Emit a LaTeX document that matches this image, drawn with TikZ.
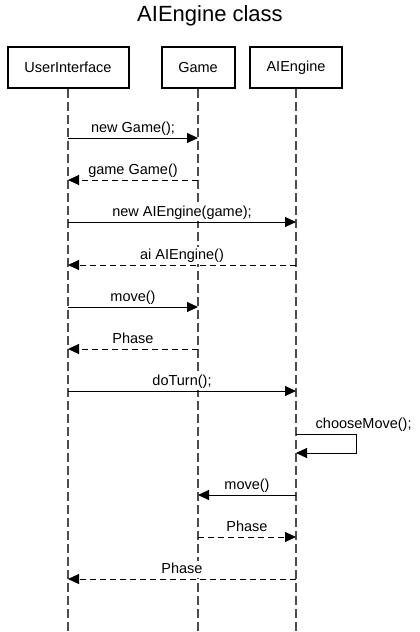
\documentclass[tikz,border=0pt]{standalone}
\usepackage{fontspec}
\setmainfont{Liberation Sans}
\usetikzlibrary{arrows.meta}

\begin{document}
\begin{tikzpicture}[x=1pt, y=-1pt,
    actor/.style={draw, line width=2pt, minimum height=41pt, inner sep=0pt, font=\fontsize{14.5}{17}\selectfont},
    lifeline/.style={draw=black!70, line width=1.5pt, dash pattern=on 9pt off 4pt},
    msg/.style={-{Triangle[length=11pt, width=10pt]}, line width=1pt},
    reply/.style={msg, dash pattern=on 6pt off 4pt},
    lbl/.style={above, fill=white, inner sep=1.5pt, yshift=0.5pt, text depth=3.5pt, font=\fontsize{14.5}{17}\selectfont}]
    \useasboundingbox (0,0) rectangle (420,632);
    % Title
    \node[font=\fontsize{22}{26}\selectfont] (title) at (210,16) {AIEngine class};
    % Participants
    \node[actor, minimum width=121pt] (ui) at (68,67.5) {UserInterface};
    \node[actor, minimum width=73pt] (game) at (198,67.5) {Game};
    \node[actor, minimum width=92pt] (ai) at (296,67.5) {AIEngine};
    \coordinate (bottom) at (0,632);
    % Lifelines
    \foreach \p in {ui,game,ai}{
        \draw[lifeline] (\p.south) -- (\p.south |- bottom);
    }
    % Messages
    \draw[msg] (ui |- 0,138) -- node[lbl] {new Game();} (game |- 0,138);
    \draw[reply] (game |- 0,180) -- node[lbl] {game Game()} (ui |- 0,180);
    \draw[msg] (ui |- 0,222) -- node[lbl] {new AIEngine(game);} (ai |- 0,222);
    \draw[reply] (ai |- 0,265) -- node[lbl] {ai AIEngine()} (ui |- 0,265);
    \draw[msg] (ui |- 0,307) -- node[lbl] {move()} (game |- 0,307);
    \draw[reply] (game |- 0,349) -- node[lbl] {Phase} (ui |- 0,349);
    \draw[msg] (ui |- 0,391) -- node[lbl] {doTurn();} (ai |- 0,391);
    % Self call
    \draw[msg] (ai |- 0,434) -- ++(60,0) |- (ai |- 0,453);
    \node[lbl, anchor=south west] (choose) at (314,434) {chooseMove();};
    \draw[msg] (ai |- 0,495) -- node[lbl] {move()} (game |- 0,495);
    \draw[reply] (game |- 0,537) -- node[lbl] {Phase} (ai |- 0,537);
    \draw[reply] (ai |- 0,579) -- node[lbl] {Phase} (ui |- 0,579);
\end{tikzpicture}
\end{document}
